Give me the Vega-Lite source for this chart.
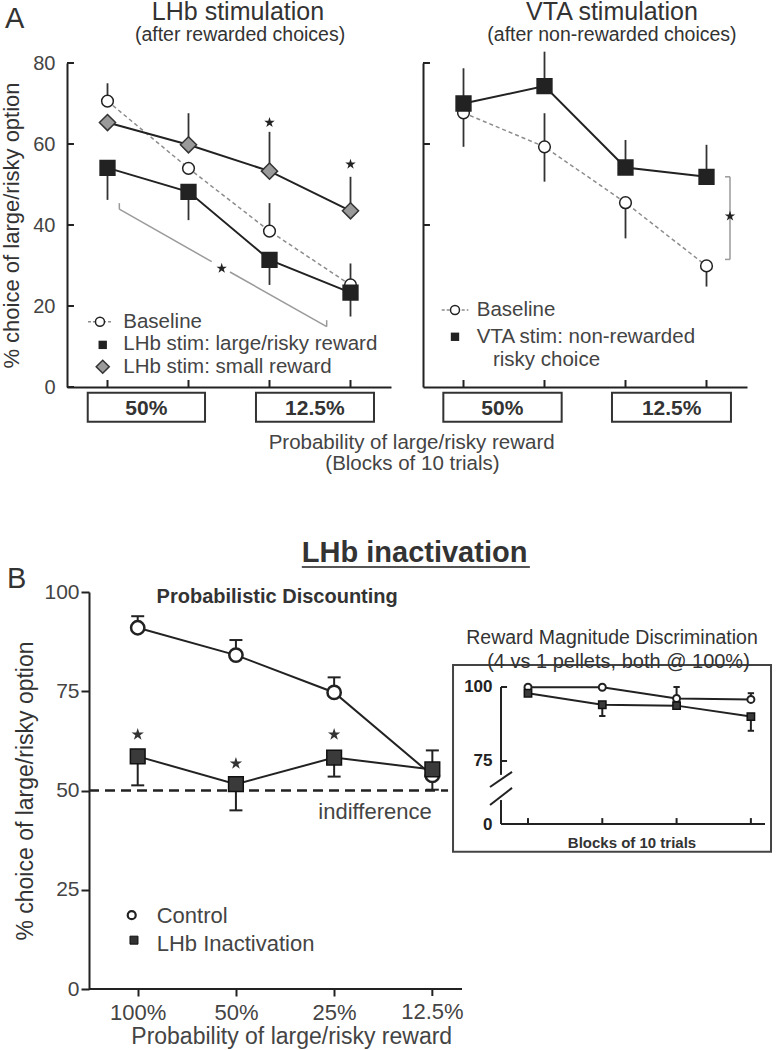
{
  "$schema": "https://vega.github.io/schema/vega-lite/v6.json",
  "padding": 0,
  "background": "white",
  "config": {
    "font": "Liberation Sans",
    "view": {"stroke": null},
    "axis": {"grid": false, "domainColor": "#222", "domainWidth": 2, "tickColor": "#222", "tickWidth": 2, "labelColor": "#444", "labelFontSize": 20, "titleColor": "#333", "titleFontSize": 22, "titleFontWeight": "normal"}
  },
  "datasets": {
    "lhbStim": [
      {"g": "Baseline", "x": 1, "v": 70.6, "lo": 70.6, "hi": 75.0},
      {"g": "Baseline", "x": 2, "v": 54.0, "lo": 54.0, "hi": 54.0},
      {"g": "Baseline", "x": 3, "v": 38.5, "lo": 38.5, "hi": 45.4},
      {"g": "Baseline", "x": 4, "v": 25.2, "lo": 25.2, "hi": 30.5},
      {"g": "LHb stim: large/risky reward", "x": 1, "v": 54.1, "lo": 46.2, "hi": 54.1},
      {"g": "LHb stim: large/risky reward", "x": 2, "v": 48.2, "lo": 41.2, "hi": 48.2},
      {"g": "LHb stim: large/risky reward", "x": 3, "v": 31.4, "lo": 25.2, "hi": 31.4},
      {"g": "LHb stim: large/risky reward", "x": 4, "v": 23.3, "lo": 17.4, "hi": 23.3},
      {"g": "LHb stim: small reward", "x": 1, "v": 65.3, "lo": 65.3, "hi": 65.3},
      {"g": "LHb stim: small reward", "x": 2, "v": 59.8, "lo": 59.8, "hi": 67.6},
      {"g": "LHb stim: small reward", "x": 3, "v": 53.3, "lo": 53.3, "hi": 63.0},
      {"g": "LHb stim: small reward", "x": 4, "v": 43.5, "lo": 43.5, "hi": 51.9}
    ],
    "starsA1": [{"x": 3, "v": 65.3}, {"x": 4, "v": 55.0}, {"x": 2.41, "v": 29.3}],
    "vtaStim": [
      {"g": "Baseline", "x": 1, "v": 67.7, "lo": 59.3, "hi": 67.7},
      {"g": "Baseline", "x": 2, "v": 59.3, "lo": 50.7, "hi": 67.6},
      {"g": "Baseline", "x": 3, "v": 45.5, "lo": 36.7, "hi": 45.5},
      {"g": "Baseline", "x": 4, "v": 29.9, "lo": 24.8, "hi": 29.9},
      {"g": "VTA stim: non-rewarded risky choice", "x": 1, "v": 70.0, "lo": 70.0, "hi": 78.7},
      {"g": "VTA stim: non-rewarded risky choice", "x": 2, "v": 74.3, "lo": 74.3, "hi": 82.8},
      {"g": "VTA stim: non-rewarded risky choice", "x": 3, "v": 54.2, "lo": 54.2, "hi": 61.0},
      {"g": "VTA stim: non-rewarded risky choice", "x": 4, "v": 51.9, "lo": 51.9, "hi": 59.8}
    ],
    "starsA2": [{"x": 4.29, "v": 42.2}],
    "inact": [
      {"g": "Control", "x": 1, "v": 91.0, "lo": 91.0, "hi": 93.9},
      {"g": "Control", "x": 2, "v": 84.1, "lo": 84.1, "hi": 87.9},
      {"g": "Control", "x": 3, "v": 74.7, "lo": 74.7, "hi": 78.5},
      {"g": "Control", "x": 4, "v": 53.8, "lo": 53.8, "hi": 53.8},
      {"g": "LHb Inactivation", "x": 1, "v": 58.6, "lo": 51.3, "hi": 58.6},
      {"g": "LHb Inactivation", "x": 2, "v": 51.6, "lo": 45.0, "hi": 51.6},
      {"g": "LHb Inactivation", "x": 3, "v": 58.3, "lo": 53.5, "hi": 58.3},
      {"g": "LHb Inactivation", "x": 4, "v": 55.3, "lo": 50.2, "hi": 60.1}
    ],
    "starsB": [{"x": 1, "v": 64.1}, {"x": 2, "v": 56.8}, {"x": 3, "v": 64.1}],
    "magnitude": [
      {"g": "Control", "x": 1, "v": 99.9, "lo": 99.9, "hi": 99.9},
      {"g": "Control", "x": 2, "v": 99.9, "lo": 99.9, "hi": 99.9},
      {"g": "Control", "x": 3, "v": 96.1, "lo": 96.1, "hi": 100.0},
      {"g": "Control", "x": 4, "v": 95.8, "lo": 95.8, "hi": 97.9},
      {"g": "LHb Inactivation", "x": 1, "v": 97.9, "lo": 97.9, "hi": 97.9},
      {"g": "LHb Inactivation", "x": 2, "v": 94.0, "lo": 90.2, "hi": 94.0},
      {"g": "LHb Inactivation", "x": 3, "v": 93.7, "lo": 93.7, "hi": 93.7},
      {"g": "LHb Inactivation", "x": 4, "v": 90.0, "lo": 85.2, "hi": 90.0}
    ],
    "blocks": [{"t": 1}, {"t": 2}, {"t": 3}, {"t": 4}],
    "ticksA1y": [{"t": 0}, {"t": 20}, {"t": 40}, {"t": 60}, {"t": 80}],
    "ticksA2y": [{"t": 40}, {"t": 60}, {"t": 80}],
    "ticksIy": [{"t": 75}, {"t": 100}]
  },
  "columns": 2,
  "spacing": {"row": 205, "column": 32},
  "bounds": "flush",
  "align": "each",
  "concat": [
    {
      "width": 324, "height": 324,
      "layer": [
        {"data": {"name": "lhbStim"}, "mark": {"type": "rule", "color": "#333", "strokeWidth": 1.8},
         "encoding": {
           "x": {"field": "x", "type": "quantitative", "scale": {"domain": [0.5, 4.5], "nice": false, "zero": false},
                 "axis": {"values": [1, 2, 3, 4], "labels": false, "ticks": false, "title": null}},
           "y": {"field": "lo", "type": "quantitative", "scale": {"domain": [0, 80], "nice": false, "zero": false},
                 "axis": {"values": [0, 20, 40, 60, 80], "ticks": false, "tickSize": 0, "labelPadding": 12, "title": "% choice of large/risky option", "titlePadding": 9}},
           "y2": {"field": "hi"}}},
        {"data": {"name": "blocks"}, "mark": {"type": "rule", "color": "#222", "strokeWidth": 2}, "encoding": {"x": {"field": "t", "type": "quantitative"}, "y": {"datum": 0}, "y2": {"datum": 1.73}}},
        {"data": {"name": "ticksA1y"}, "mark": {"type": "rule", "color": "#222", "strokeWidth": 2}, "encoding": {"x": {"datum": 0.5}, "x2": {"datum": 0.586}, "y": {"field": "t", "type": "quantitative"}}},
        {"data": {"name": "lhbStim"}, "transform": [{"filter": "datum.g == 'Baseline'"}], "mark": {"type": "line", "color": "#8c8c8c", "strokeWidth": 1.5, "strokeDash": [4, 3]}, "encoding": {"x": {"field": "x", "type": "quantitative"}, "y": {"field": "v", "type": "quantitative"}}},
        {"data": {"name": "lhbStim"}, "transform": [{"filter": "datum.g == 'LHb stim: small reward'"}], "mark": {"type": "line", "color": "#222", "strokeWidth": 2}, "encoding": {"x": {"field": "x", "type": "quantitative"}, "y": {"field": "v", "type": "quantitative"}}},
        {"data": {"name": "lhbStim"}, "transform": [{"filter": "datum.g == 'LHb stim: large/risky reward'"}], "mark": {"type": "line", "color": "#222", "strokeWidth": 2}, "encoding": {"x": {"field": "x", "type": "quantitative"}, "y": {"field": "v", "type": "quantitative"}}},
        {"data": {"name": "lhbStim"}, "transform": [{"filter": "datum.g == 'Baseline'"}], "mark": {"type": "point", "shape": "circle", "filled": true, "fill": "white", "stroke": "#222", "strokeWidth": 1.5, "size": 137, "opacity": 1}, "encoding": {"x": {"field": "x", "type": "quantitative"}, "y": {"field": "v", "type": "quantitative"}}},
        {"data": {"name": "lhbStim"}, "transform": [{"filter": "datum.g == 'LHb stim: large/risky reward'"}], "mark": {"type": "point", "shape": "square", "filled": true, "fill": "#222", "stroke": "#222", "size": 205, "opacity": 1}, "encoding": {"x": {"field": "x", "type": "quantitative"}, "y": {"field": "v", "type": "quantitative"}}},
        {"data": {"name": "lhbStim"}, "transform": [{"filter": "datum.g == 'LHb stim: small reward'"}], "mark": {"type": "point", "shape": "diamond", "filled": true, "fill": "#9a9a9a", "stroke": "#333", "strokeWidth": 1.5, "size": 260, "opacity": 1}, "encoding": {"x": {"field": "x", "type": "quantitative"}, "y": {"field": "v", "type": "quantitative"}}},
        {"data": {"name": "starsA1"}, "mark": {"type": "point", "shape": "M0,-1L0.2245,-0.309L0.951,-0.309L0.363,0.118L0.588,0.809L0,0.382L-0.588,0.809L-0.363,0.118L-0.951,-0.309L-0.2245,-0.309Z", "filled": true, "color": "#222", "size": 120, "opacity": 1}, "encoding": {"x": {"field": "x", "type": "quantitative"}, "y": {"field": "v", "type": "quantitative"}}},
        {"data": {"values": [{}]}, "mark": {"type": "rule", "color": "#9a9a9a", "strokeWidth": 1.5}, "encoding": {"x": {"datum": 1.146}, "y": {"datum": 45.4}, "y2": {"datum": 43.9}}},
        {"data": {"values": [{}]}, "mark": {"type": "rule", "color": "#9a9a9a", "strokeWidth": 1.5}, "encoding": {"x": {"datum": 1.146}, "y": {"datum": 43.9}, "x2": {"datum": 2.286}, "y2": {"datum": 30.96}}},
        {"data": {"values": [{}]}, "mark": {"type": "rule", "color": "#9a9a9a", "strokeWidth": 1.5}, "encoding": {"x": {"datum": 2.512}, "y": {"datum": 28.4}, "x2": {"datum": 3.706}, "y2": {"datum": 14.9}}},
        {"data": {"values": [{}]}, "mark": {"type": "rule", "color": "#9a9a9a", "strokeWidth": 1.5}, "encoding": {"x": {"datum": 3.706}, "y": {"datum": 14.9}, "y2": {"datum": 16.5}}},
        {"data": {"values": [{}]}, "mark": {"type": "rule", "color": "#8c8c8c", "strokeWidth": 1.5, "strokeDash": [3, 2]}, "encoding": {"x": {"datum": 0.759}, "x2": {"datum": 1.056}, "y": {"datum": 16.1}}},
        {"data": {"values": [{}]}, "mark": {"type": "point", "shape": "circle", "filled": true, "fill": "white", "stroke": "#222", "strokeWidth": 1.5, "size": 81, "opacity": 1}, "encoding": {"x": {"datum": 0.907}, "y": {"datum": 16.1}}},
        {"data": {"values": [{}]}, "mark": {"type": "point", "shape": "square", "filled": true, "fill": "#222", "size": 70, "opacity": 1}, "encoding": {"x": {"datum": 0.941}, "y": {"datum": 10.4}}},
        {"data": {"values": [{}]}, "mark": {"type": "point", "shape": "diamond", "filled": true, "fill": "#9a9a9a", "stroke": "#333", "strokeWidth": 1.5, "size": 170, "opacity": 1}, "encoding": {"x": {"datum": 0.941}, "y": {"datum": 5.0}}},
        {"data": {"values": [{}]}, "mark": {"type": "text", "text": "Baseline", "align": "left", "baseline": "alphabetic", "fontSize": 20.5, "color": "#444"}, "encoding": {"x": {"datum": 1.195}, "y": {"datum": 14.6}}},
        {"data": {"values": [{}]}, "mark": {"type": "text", "text": "LHb stim: large/risky reward", "align": "left", "baseline": "alphabetic", "fontSize": 20.5, "color": "#444"}, "encoding": {"x": {"datum": 1.195}, "y": {"datum": 9.1}}},
        {"data": {"values": [{}]}, "mark": {"type": "text", "text": "LHb stim: small reward", "align": "left", "baseline": "alphabetic", "fontSize": 20.5, "color": "#444"}, "encoding": {"x": {"datum": 1.195}, "y": {"datum": 3.5}}},
        {"data": {"values": [{}]}, "mark": {"type": "rect", "fill": "white", "stroke": "#333", "strokeWidth": 2}, "encoding": {"x": {"datum": 0.756}, "x2": {"datum": 2.204}, "y": {"datum": -1.41}, "y2": {"datum": -8.57}}},
        {"data": {"values": [{}]}, "mark": {"type": "rect", "fill": "white", "stroke": "#333", "strokeWidth": 2}, "encoding": {"x": {"datum": 2.833}, "x2": {"datum": 4.29}, "y": {"datum": -1.41}, "y2": {"datum": -8.57}}},
        {"data": {"values": [{}]}, "mark": {"type": "text", "text": "50%", "align": "center", "baseline": "alphabetic", "fontSize": 21, "fontWeight": "bold", "color": "#333"}, "encoding": {"x": {"datum": 1.48}, "y": {"datum": -6.9}}},
        {"data": {"values": [{}]}, "mark": {"type": "text", "text": "12.5%", "align": "center", "baseline": "alphabetic", "fontSize": 21, "fontWeight": "bold", "color": "#333"}, "encoding": {"x": {"datum": 3.56}, "y": {"datum": -6.9}}},
        {"data": {"values": [{}]}, "mark": {"type": "text", "text": "LHb stimulation", "align": "center", "baseline": "alphabetic", "fontSize": 25, "color": "#333"}, "encoding": {"x": {"datum": 2.611}, "y": {"datum": 90.6}}},
        {"data": {"values": [{}]}, "mark": {"type": "text", "text": "(after rewarded choices)", "align": "center", "baseline": "alphabetic", "fontSize": 19.5, "color": "#333"}, "encoding": {"x": {"datum": 2.636}, "y": {"datum": 85.4}}},
        {"data": {"values": [{}]}, "mark": {"type": "text", "text": "A", "align": "left", "baseline": "alphabetic", "fontSize": 29, "color": "#333"}, "encoding": {"x": {"datum": -0.265}, "y": {"datum": 88.6}}},
        {"data": {"values": [{}]}, "mark": {"type": "text", "text": "Probability of large/risky reward", "align": "center", "baseline": "alphabetic", "fontSize": 20.5, "color": "#444"}, "encoding": {"x": {"datum": 4.755}, "y": {"datum": -15.3}}},
        {"data": {"values": [{}]}, "mark": {"type": "text", "text": "(Blocks of 10 trials)", "align": "center", "baseline": "alphabetic", "fontSize": 20.5, "color": "#444"}, "encoding": {"x": {"datum": 4.765}, "y": {"datum": -20.5}}}
      ]
    },
    {
      "width": 324, "height": 324,
      "layer": [
        {"data": {"name": "vtaStim"}, "mark": {"type": "rule", "color": "#333", "strokeWidth": 1.8},
         "encoding": {
           "x": {"field": "x", "type": "quantitative", "scale": {"domain": [0.5, 4.5], "nice": false, "zero": false},
                 "axis": {"values": [1, 2, 3, 4], "labels": false, "ticks": false, "title": null}},
           "y": {"field": "lo", "type": "quantitative", "scale": {"domain": [0, 80], "nice": false, "zero": false},
                 "axis": {"values": [40, 60, 80], "ticks": false, "labels": false, "title": null}},
           "y2": {"field": "hi"}}},
        {"data": {"name": "blocks"}, "mark": {"type": "rule", "color": "#222", "strokeWidth": 2}, "encoding": {"x": {"field": "t", "type": "quantitative"}, "y": {"datum": 0}, "y2": {"datum": 1.73}}},
        {"data": {"name": "ticksA2y"}, "mark": {"type": "rule", "color": "#222", "strokeWidth": 2}, "encoding": {"x": {"datum": 0.5}, "x2": {"datum": 0.586}, "y": {"field": "t", "type": "quantitative"}}},
        {"data": {"name": "vtaStim"}, "transform": [{"filter": "datum.g == 'Baseline'"}], "mark": {"type": "line", "color": "#8c8c8c", "strokeWidth": 1.5, "strokeDash": [4, 3]}, "encoding": {"x": {"field": "x", "type": "quantitative"}, "y": {"field": "v", "type": "quantitative"}}},
        {"data": {"name": "vtaStim"}, "transform": [{"filter": "datum.g != 'Baseline'"}], "mark": {"type": "line", "color": "#222", "strokeWidth": 2}, "encoding": {"x": {"field": "x", "type": "quantitative"}, "y": {"field": "v", "type": "quantitative"}}},
        {"data": {"name": "vtaStim"}, "transform": [{"filter": "datum.g == 'Baseline'"}], "mark": {"type": "point", "shape": "circle", "filled": true, "fill": "white", "stroke": "#222", "strokeWidth": 1.5, "size": 137, "opacity": 1}, "encoding": {"x": {"field": "x", "type": "quantitative"}, "y": {"field": "v", "type": "quantitative"}}},
        {"data": {"name": "vtaStim"}, "transform": [{"filter": "datum.g != 'Baseline'"}], "mark": {"type": "point", "shape": "square", "filled": true, "fill": "#222", "stroke": "#222", "size": 205, "opacity": 1}, "encoding": {"x": {"field": "x", "type": "quantitative"}, "y": {"field": "v", "type": "quantitative"}}},
        {"data": {"values": [{}]}, "mark": {"type": "rule", "color": "#9a9a9a", "strokeWidth": 1.5}, "encoding": {"x": {"datum": 4.29}, "y": {"datum": 51.9}, "y2": {"datum": 31.5}}},
        {"data": {"values": [{}]}, "mark": {"type": "rule", "color": "#9a9a9a", "strokeWidth": 1.5}, "encoding": {"x": {"datum": 4.228}, "x2": {"datum": 4.29}, "y": {"datum": 51.9}}},
        {"data": {"values": [{}]}, "mark": {"type": "rule", "color": "#9a9a9a", "strokeWidth": 1.5}, "encoding": {"x": {"datum": 4.228}, "x2": {"datum": 4.29}, "y": {"datum": 31.5}}},
        {"data": {"name": "starsA2"}, "mark": {"type": "point", "shape": "M0,-1L0.2245,-0.309L0.951,-0.309L0.363,0.118L0.588,0.809L0,0.382L-0.588,0.809L-0.363,0.118L-0.951,-0.309L-0.2245,-0.309Z", "filled": true, "color": "#222", "size": 120, "opacity": 1}, "encoding": {"x": {"field": "x", "type": "quantitative"}, "y": {"field": "v", "type": "quantitative"}}},
        {"data": {"values": [{}]}, "mark": {"type": "rule", "color": "#8c8c8c", "strokeWidth": 1.5, "strokeDash": [3, 2]}, "encoding": {"x": {"datum": 0.731}, "x2": {"datum": 1.06}, "y": {"datum": 19.0}}},
        {"data": {"values": [{}]}, "mark": {"type": "point", "shape": "circle", "filled": true, "fill": "white", "stroke": "#222", "strokeWidth": 1.5, "size": 81, "opacity": 1}, "encoding": {"x": {"datum": 0.895}, "y": {"datum": 19.0}}},
        {"data": {"values": [{}]}, "mark": {"type": "point", "shape": "square", "filled": true, "fill": "#222", "size": 70, "opacity": 1}, "encoding": {"x": {"datum": 0.895}, "y": {"datum": 12.4}}},
        {"data": {"values": [{}]}, "mark": {"type": "text", "text": "Baseline", "align": "left", "baseline": "alphabetic", "fontSize": 20.5, "color": "#444"}, "encoding": {"x": {"datum": 1.163}, "y": {"datum": 17.5}}},
        {"data": {"values": [{}]}, "mark": {"type": "text", "text": "VTA stim: non-rewarded", "align": "left", "baseline": "alphabetic", "fontSize": 20.5, "color": "#444"}, "encoding": {"x": {"datum": 1.163}, "y": {"datum": 10.9}}},
        {"data": {"values": [{}]}, "mark": {"type": "text", "text": "risky choice", "align": "left", "baseline": "alphabetic", "fontSize": 20.5, "color": "#444"}, "encoding": {"x": {"datum": 1.364}, "y": {"datum": 5.2}}},
        {"data": {"values": [{}]}, "mark": {"type": "rect", "fill": "white", "stroke": "#333", "strokeWidth": 2}, "encoding": {"x": {"datum": 0.751}, "x2": {"datum": 2.212}, "y": {"datum": -1.41}, "y2": {"datum": -8.57}}},
        {"data": {"values": [{}]}, "mark": {"type": "rect", "fill": "white", "stroke": "#333", "strokeWidth": 2}, "encoding": {"x": {"datum": 2.833}, "x2": {"datum": 4.302}, "y": {"datum": -1.41}, "y2": {"datum": -8.57}}},
        {"data": {"values": [{}]}, "mark": {"type": "text", "text": "50%", "align": "center", "baseline": "alphabetic", "fontSize": 21, "fontWeight": "bold", "color": "#333"}, "encoding": {"x": {"datum": 1.48}, "y": {"datum": -6.9}}},
        {"data": {"values": [{}]}, "mark": {"type": "text", "text": "12.5%", "align": "center", "baseline": "alphabetic", "fontSize": 21, "fontWeight": "bold", "color": "#333"}, "encoding": {"x": {"datum": 3.57}, "y": {"datum": -6.9}}},
        {"data": {"values": [{}]}, "mark": {"type": "text", "text": "VTA stimulation", "align": "center", "baseline": "alphabetic", "fontSize": 25, "color": "#333"}, "encoding": {"x": {"datum": 2.833}, "y": {"datum": 90.6}}},
        {"data": {"values": [{}]}, "mark": {"type": "text", "text": "(after non-rewarded choices)", "align": "center", "baseline": "alphabetic", "fontSize": 19.5, "color": "#333"}, "encoding": {"x": {"datum": 2.833}, "y": {"datum": 85.4}}}
      ]
    },
    {
      "width": 324, "height": 397,
      "layer": [
        {"data": {"name": "inact"}, "mark": {"type": "rule", "color": "#222", "strokeWidth": 2},
         "encoding": {
           "x": {"field": "x", "type": "quantitative", "scale": {"domain": [0.28, 3.579], "nice": false, "zero": false},
                 "axis": {"values": [1, 2, 3, 4], "labelExpr": "datum.value == 1 ? '100%' : datum.value == 2 ? '50%' : datum.value == 3 ? '25%' : '12.5%'", "labelFontSize": 22, "tickSize": 7, "labelPadding": 6, "domain": false, "title": null}},
           "y": {"field": "lo", "type": "quantitative", "scale": {"domain": [0, 100], "nice": false, "zero": false},
                 "axis": {"values": [0, 25, 50, 75, 100], "offset": -22, "tickSize": 8, "labelPadding": 2, "labelFontSize": 21, "title": "% choice of large/risky option", "titleFontSize": 23, "titlePadding": 6}},
           "y2": {"field": "hi"}}},
        {"data": {"values": [{}]}, "mark": {"type": "rule", "color": "#222", "strokeWidth": 2.5, "strokeDash": [10, 6]}, "encoding": {"x": {"datum": 0.504}, "x2": {"datum": 4.16}, "y": {"datum": 50}}},
        {"data": {"values": [{}]}, "mark": {"type": "rule", "color": "#222", "strokeWidth": 2}, "encoding": {"x": {"datum": 0.504}, "x2": {"datum": 4.302}, "y": {"datum": 0}}},
        {"data": {"values": [{}]}, "mark": {"type": "rule", "color": "#222", "strokeWidth": 2}, "encoding": {"x": {"datum": 4}, "y": {"datum": 0}, "y2": {"datum": -1.76}}},
        {"data": {"values": [{}]}, "mark": {"type": "text", "text": "12.5%", "align": "center", "baseline": "top", "fontSize": 22, "color": "#444"}, "encoding": {"x": {"datum": 4}, "y": {"datum": -3.27}}},
        {"data": {"name": "inact"}, "transform": [{"filter": "datum.hi > datum.v"}], "mark": {"type": "point", "shape": "stroke", "filled": false, "stroke": "#222", "strokeWidth": 2, "size": 169, "opacity": 1}, "encoding": {"x": {"field": "x", "type": "quantitative"}, "y": {"field": "hi", "type": "quantitative"}}},
        {"data": {"name": "inact"}, "transform": [{"filter": "datum.lo < datum.v"}], "mark": {"type": "point", "shape": "stroke", "filled": false, "stroke": "#222", "strokeWidth": 2, "size": 169, "opacity": 1}, "encoding": {"x": {"field": "x", "type": "quantitative"}, "y": {"field": "lo", "type": "quantitative"}}},
        {"data": {"name": "inact"}, "transform": [{"filter": "datum.g == 'Control'"}], "mark": {"type": "line", "color": "#222", "strokeWidth": 2}, "encoding": {"x": {"field": "x", "type": "quantitative"}, "y": {"field": "v", "type": "quantitative"}}},
        {"data": {"name": "inact"}, "transform": [{"filter": "datum.g == 'LHb Inactivation'"}], "mark": {"type": "line", "color": "#222", "strokeWidth": 2}, "encoding": {"x": {"field": "x", "type": "quantitative"}, "y": {"field": "v", "type": "quantitative"}}},
        {"data": {"name": "inact"}, "transform": [{"filter": "datum.g == 'Control'"}], "mark": {"type": "point", "shape": "circle", "filled": true, "fill": "white", "stroke": "#222", "strokeWidth": 2.5, "size": 177, "opacity": 1}, "encoding": {"x": {"field": "x", "type": "quantitative"}, "y": {"field": "v", "type": "quantitative"}}},
        {"data": {"name": "inact"}, "transform": [{"filter": "datum.g == 'LHb Inactivation'"}], "mark": {"type": "point", "shape": "square", "filled": true, "fill": "#3a3a3a", "stroke": "#111", "strokeWidth": 1.5, "size": 216, "opacity": 1}, "encoding": {"x": {"field": "x", "type": "quantitative"}, "y": {"field": "v", "type": "quantitative"}}},
        {"data": {"name": "starsB"}, "mark": {"type": "point", "shape": "M0,-1L0.2245,-0.309L0.951,-0.309L0.363,0.118L0.588,0.809L0,0.382L-0.588,0.809L-0.363,0.118L-0.951,-0.309L-0.2245,-0.309Z", "filled": true, "color": "#333", "size": 169, "opacity": 1}, "encoding": {"x": {"field": "x", "type": "quantitative"}, "y": {"field": "v", "type": "quantitative"}}},
        {"data": {"values": [{}]}, "mark": {"type": "text", "text": "B", "align": "left", "baseline": "alphabetic", "fontSize": 29, "color": "#333"}, "encoding": {"x": {"datum": -0.331}, "y": {"datum": 101.0}}},
        {"data": {"values": [{}]}, "mark": {"type": "text", "text": "LHb inactivation", "align": "left", "baseline": "alphabetic", "fontSize": 29, "fontWeight": "bold", "color": "#333"}, "encoding": {"x": {"datum": 2.671}, "y": {"datum": 107.6}}},
        {"data": {"values": [{}]}, "mark": {"type": "rule", "color": "#555", "strokeWidth": 2}, "encoding": {"x": {"datum": 2.671}, "x2": {"datum": 4.993}, "y": {"datum": 106.3}}},
        {"data": {"values": [{}]}, "mark": {"type": "text", "text": "Probabilistic Discounting", "align": "center", "baseline": "alphabetic", "fontSize": 20, "fontWeight": "bold", "color": "#333"}, "encoding": {"x": {"datum": 2.42}, "y": {"datum": 97.3}}},
        {"data": {"values": [{}]}, "mark": {"type": "text", "text": "indifference", "align": "center", "baseline": "alphabetic", "fontSize": 22, "color": "#444"}, "encoding": {"x": {"datum": 3.416}, "y": {"datum": 42.8}}},
        {"data": {"values": [{}]}, "mark": {"type": "point", "shape": "circle", "filled": true, "fill": "white", "stroke": "#222", "strokeWidth": 2.2, "size": 64, "opacity": 1}, "encoding": {"x": {"datum": 0.939}, "y": {"datum": 18.6}}},
        {"data": {"values": [{}]}, "mark": {"type": "point", "shape": "square", "filled": true, "fill": "#333", "stroke": "#111", "strokeWidth": 1, "size": 64, "opacity": 1}, "encoding": {"x": {"datum": 0.962}, "y": {"datum": 12.3}}},
        {"data": {"values": [{}]}, "mark": {"type": "text", "text": "Control", "align": "left", "baseline": "alphabetic", "fontSize": 22, "color": "#444"}, "encoding": {"x": {"datum": 1.193}, "y": {"datum": 16.5}}},
        {"data": {"values": [{}]}, "mark": {"type": "text", "text": "LHb Inactivation", "align": "left", "baseline": "alphabetic", "fontSize": 22, "color": "#444"}, "encoding": {"x": {"datum": 1.193}, "y": {"datum": 9.6}}},
        {"data": {"values": [{}]}, "mark": {"type": "text", "text": "Probability of large/risky reward", "align": "center", "baseline": "alphabetic", "fontSize": 23, "color": "#444"}, "encoding": {"x": {"datum": 2.568}, "y": {"datum": -13.8}}}
      ]
    },
    {
      "width": 342, "height": 232,
      "layer": [
        {"data": {"name": "magnitude"}, "mark": {"type": "rule", "color": "#222", "strokeWidth": 2},
         "encoding": {
           "x": {"field": "x", "type": "quantitative", "scale": {"domain": [-0.4132, 4.19], "nice": false, "zero": false}, "axis": null},
           "y": {"field": "lo", "type": "quantitative", "scale": {"domain": [53.7, 132.1], "nice": false, "zero": false},
                 "axis": {"values": [53.7, 75, 100], "labelExpr": "datum.value < 60 ? '0' : datum.label", "offset": -78, "domain": false, "ticks": false, "tickSize": 0, "labelPadding": 9, "labelFontSize": 17, "labelFontWeight": "bold", "labelColor": "#222", "title": null}},
           "y2": {"field": "hi"}}},
        {"data": {"values": [{}]}, "mark": {"type": "rect", "fill": "white", "fillOpacity": 0, "stroke": "#444", "strokeWidth": 2}, "encoding": {"x": {"datum": -0.009}, "x2": {"datum": 4.271}, "y": {"datum": 107.4}, "y2": {"datum": 44.3}}},
        {"data": {"values": [{}]}, "mark": {"type": "rule", "color": "#222", "strokeWidth": 2}, "encoding": {"x": {"datum": 0.637}, "x2": {"datum": 4.19}, "y": {"datum": 53.7}}},
        {"data": {"values": [{}]}, "mark": {"type": "rule", "color": "#222", "strokeWidth": 2}, "encoding": {"x": {"datum": 0.637}, "y": {"datum": 100}, "y2": {"datum": 70.3}}},
        {"data": {"values": [{}]}, "mark": {"type": "rule", "color": "#222", "strokeWidth": 2}, "encoding": {"x": {"datum": 0.637}, "y": {"datum": 61.8}, "y2": {"datum": 53.7}}},
        {"data": {"values": [{}]}, "mark": {"type": "rule", "color": "#222", "strokeWidth": 2}, "encoding": {"x": {"datum": 0.489}, "y": {"datum": 66.2}, "x2": {"datum": 0.785}, "y2": {"datum": 71.3}}},
        {"data": {"values": [{}]}, "mark": {"type": "rule", "color": "#222", "strokeWidth": 2}, "encoding": {"x": {"datum": 0.489}, "y": {"datum": 60.1}, "x2": {"datum": 0.785}, "y2": {"datum": 65.9}}},
        {"data": {"name": "ticksIy"}, "mark": {"type": "rule", "color": "#222", "strokeWidth": 2}, "encoding": {"x": {"datum": 0.637}, "x2": {"datum": 0.718}, "y": {"field": "t", "type": "quantitative"}}},
        {"data": {"name": "blocks"}, "mark": {"type": "rule", "color": "#222", "strokeWidth": 2}, "encoding": {"x": {"field": "t", "type": "quantitative"}, "y": {"datum": 53.7}, "y2": {"datum": 55.7}}},
        {"data": {"name": "magnitude"}, "transform": [{"filter": "datum.hi > datum.v"}], "mark": {"type": "point", "shape": "stroke", "filled": false, "stroke": "#222", "strokeWidth": 2, "size": 40, "opacity": 1}, "encoding": {"x": {"field": "x", "type": "quantitative"}, "y": {"field": "hi", "type": "quantitative"}}},
        {"data": {"name": "magnitude"}, "transform": [{"filter": "datum.lo < datum.v"}], "mark": {"type": "point", "shape": "stroke", "filled": false, "stroke": "#222", "strokeWidth": 2, "size": 40, "opacity": 1}, "encoding": {"x": {"field": "x", "type": "quantitative"}, "y": {"field": "lo", "type": "quantitative"}}},
        {"data": {"name": "magnitude"}, "transform": [{"filter": "datum.g == 'Control'"}], "mark": {"type": "line", "color": "#222", "strokeWidth": 2}, "encoding": {"x": {"field": "x", "type": "quantitative"}, "y": {"field": "v", "type": "quantitative"}}},
        {"data": {"name": "magnitude"}, "transform": [{"filter": "datum.g == 'LHb Inactivation'"}], "mark": {"type": "line", "color": "#222", "strokeWidth": 2}, "encoding": {"x": {"field": "x", "type": "quantitative"}, "y": {"field": "v", "type": "quantitative"}}},
        {"data": {"name": "magnitude"}, "transform": [{"filter": "datum.g == 'Control'"}], "mark": {"type": "point", "shape": "circle", "filled": true, "fill": "white", "stroke": "#222", "strokeWidth": 2, "size": 49, "opacity": 1}, "encoding": {"x": {"field": "x", "type": "quantitative"}, "y": {"field": "v", "type": "quantitative"}}},
        {"data": {"name": "magnitude"}, "transform": [{"filter": "datum.g == 'LHb Inactivation'"}], "mark": {"type": "point", "shape": "square", "filled": true, "fill": "#3a3a3a", "stroke": "#111", "strokeWidth": 1.5, "size": 54, "opacity": 1}, "encoding": {"x": {"field": "x", "type": "quantitative"}, "y": {"field": "v", "type": "quantitative"}}},
        {"data": {"values": [{}]}, "mark": {"type": "text", "text": "Reward Magnitude Discrimination", "align": "center", "baseline": "alphabetic", "fontSize": 19.5, "color": "#333"}, "encoding": {"x": {"datum": 2.131}, "y": {"datum": 114.5}}},
        {"data": {"values": [{}]}, "mark": {"type": "text", "text": "(4 vs 1 pellets, both @ 100%)", "align": "center", "baseline": "alphabetic", "fontSize": 20, "color": "#333"}, "encoding": {"x": {"datum": 2.218}, "y": {"datum": 106.4}}},
        {"data": {"values": [{}]}, "mark": {"type": "text", "text": "Blocks of 10 trials", "align": "center", "baseline": "alphabetic", "fontSize": 15, "fontWeight": "bold", "color": "#333"}, "encoding": {"x": {"datum": 2.4}, "y": {"datum": 45.6}}}
      ]
    }
  ]
}
